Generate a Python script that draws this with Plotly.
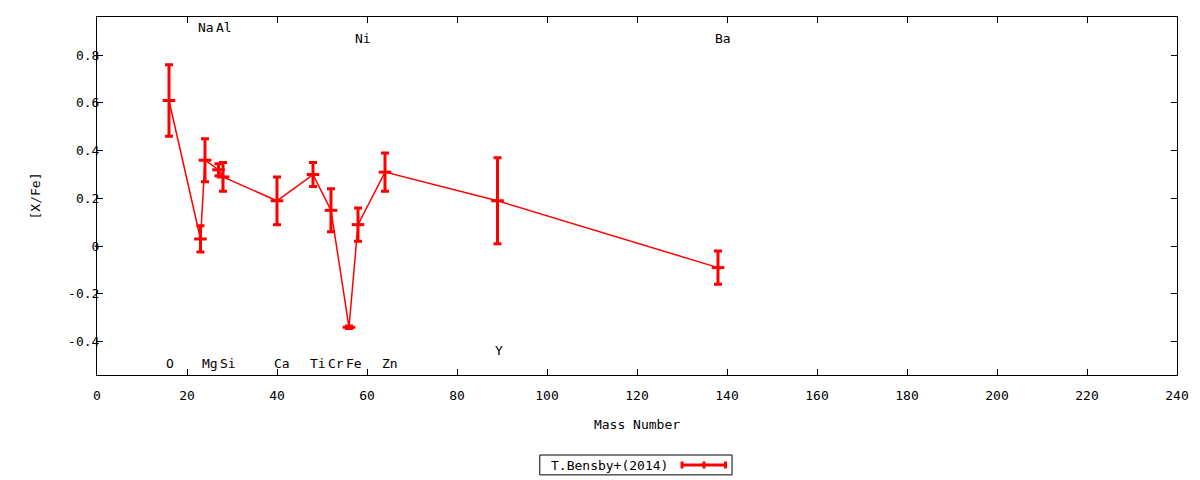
import plotly.graph_objects as go

# [X/Fe] abundances vs mass number
elements = ["O", "Na", "Mg", "Al", "Si", "Ca", "Ti", "Cr", "Fe", "Ni", "Zn", "Y", "Ba"]
mass_number = [16, 23, 24, 27, 28, 40, 48, 52, 56, 58, 64, 89, 138]
x_fe = [0.61, 0.03, 0.36, 0.32, 0.29, 0.19, 0.30, 0.15, -0.34, 0.09, 0.31, 0.19, -0.09]
x_fe_err = [0.15, 0.055, 0.09, 0.025, 0.06, 0.10, 0.05, 0.09, 0.005, 0.07, 0.08, 0.18, 0.07]
label_y = [-0.49, 0.918, -0.49, 0.918, -0.49, -0.49, -0.49, -0.49, -0.49, 0.87, -0.49, -0.436, 0.87]

y_ticks = [-0.4, -0.2, 0, 0.2, 0.4, 0.6, 0.8]
y_ticklabels = ["-0.4", "-0.2", "0", "0.2", "0.4", "0.6", "0.8"]
x_ticks = list(range(0, 241, 20))

FONT = "DejaVu Sans Mono"
RED = "#ff0000"

fig = go.Figure()
fig.add_trace(go.Scatter(
    x=mass_number,
    y=x_fe,
    mode="lines+markers",
    line=dict(color=RED, width=1.5),
    marker=dict(symbol="line-ew", size=9, line=dict(color=RED, width=3)),
    error_y=dict(type="data", array=x_fe_err, color=RED, thickness=3, width=4),
    showlegend=False,
))

for el, m, ly in zip(elements, mass_number, label_y):
    fig.add_annotation(x=m, y=ly, text=el, showarrow=False, xanchor="left",
                       yanchor="middle", xshift=-5, font=dict(family=FONT, size=13, color="black"))

# legend box drawn by hand (gnuplot style: key text then sample on the right)
fig.add_shape(type="rect", xref="paper", yref="paper", x0=0.410, x1=0.588, y0=-0.279, y1=-0.2235,
              line=dict(color="black", width=1))
fig.add_annotation(xref="paper", yref="paper", x=0.4185, y=-0.2514, text="T.Bensby+(2014)",
                   showarrow=False, xanchor="left", yanchor="middle",
                   font=dict(family=FONT, size=13, color="black"))
fig.add_shape(type="line", xref="paper", yref="paper", x0=0.5417, x1=0.5820, y0=-0.2514, y1=-0.2514,
              line=dict(color=RED, width=3))
for px in [0.5417, 0.5620, 0.5820]:
    fig.add_shape(type="line", xref="paper", yref="paper", x0=px, x1=px, y0=-0.2416, y1=-0.2612,
                  line=dict(color=RED, width=3))

fig.update_xaxes(
    range=[0, 240], tickvals=x_ticks, ticks="inside", ticklen=6, tickcolor="black",
    showline=True, linecolor="black", linewidth=1, mirror="ticks", showgrid=False, zeroline=False,
    ticklabelstandoff=8,
    title=dict(text="Mass Number", font=dict(family=FONT, size=13, color="black"), standoff=18),
    tickfont=dict(family=FONT, size=13, color="black"),
)
fig.update_yaxes(
    range=[-0.54, 0.96], tickvals=y_ticks, ticktext=y_ticklabels, ticks="inside", ticklen=6,
    tickcolor="black", showline=True, linecolor="black", linewidth=1, mirror="ticks",
    showgrid=False, zeroline=False, ticklabelstandoff=-6,
    title=dict(text="[X/Fe]", font=dict(family=FONT, size=13, color="black"), standoff=24),
    tickfont=dict(family=FONT, size=13, color="black"),
)
fig.update_layout(
    width=1200, height=480,
    margin=dict(l=97, r=23, t=17, b=105),
    plot_bgcolor="white", paper_bgcolor="white",
    font=dict(family=FONT, size=13, color="black"),
)

fig.write_html("out.html", config={"displayModeBar": False},
               post_script="document.body.style.margin='0';")
